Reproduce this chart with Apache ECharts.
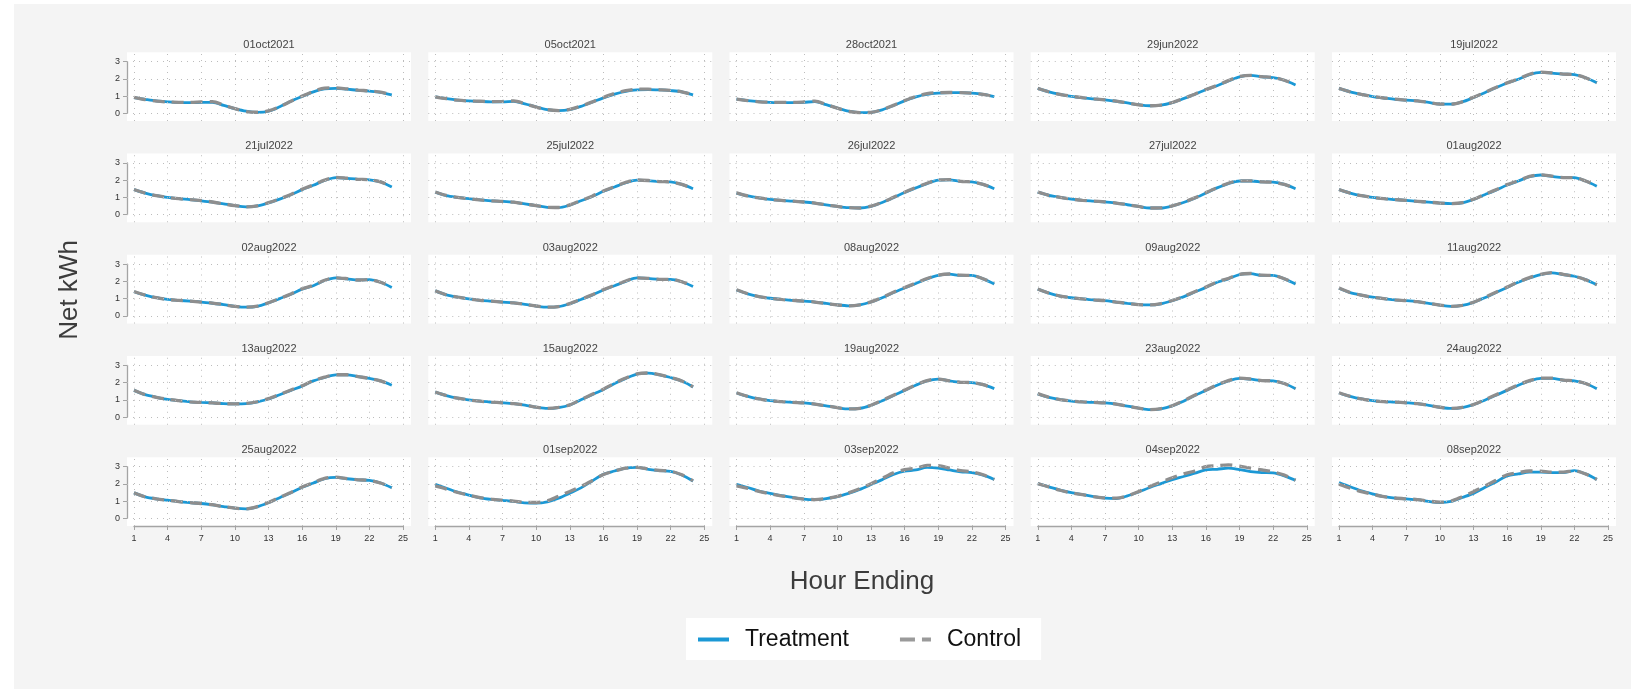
<!DOCTYPE html>
<html>
<head>
<meta charset="utf-8">
<script src="https://cdn.jsdelivr.net/npm/echarts@6/dist/echarts.min.js"></script>
<style>
html, body { margin: 0; padding: 0; background: #fff; }
#bg { position: absolute; left: 14px; top: 4px; right: 0; bottom: 0; background: #f4f4f4; }
#chart { position: absolute; left: 0; top: 0; width: 1631px; height: 689px; }
</style>
</head>
<body>
<div id="bg"></div>
<div id="chart"></div>
<script>
// Hour-ending index shared by every panel
const hours = [1,2,3,4,5,6,7,8,9,10,11,12,13,14,15,16,17,18,19,20,21,22,23,24];
const xTicks = [1,4,7,10,13,16,19,22,25];
const yTicks = [0,1,2,3];

// Event days, one panel each (row by row)
const eventDays = [
  '01oct2021','05oct2021','28oct2021','29jun2022','19jul2022',
  '21jul2022','25jul2022','26jul2022','27jul2022','01aug2022',
  '02aug2022','03aug2022','08aug2022','09aug2022','11aug2022',
  '13aug2022','15aug2022','19aug2022','23aug2022','24aug2022',
  '25aug2022','01sep2022','03sep2022','04sep2022','08sep2022'
];

// Net kWh by hour: tr_ = Treatment, ct_ = Control
const tr_01oct2021 = [0.91,0.81,0.72,0.67,0.63,0.62,0.63,0.63,0.46,0.27,0.12,0.05,0.12,0.38,0.70,0.98,1.25,1.42,1.45,1.40,1.34,1.29,1.22,1.07];
const ct_01oct2021 = [0.93,0.80,0.71,0.66,0.64,0.63,0.66,0.68,0.48,0.27,0.10,0.06,0.14,0.38,0.70,1.00,1.27,1.46,1.48,1.42,1.35,1.30,1.23,1.08];
const tr_05oct2021 = [0.95,0.85,0.77,0.72,0.69,0.67,0.67,0.69,0.55,0.37,0.22,0.16,0.22,0.40,0.65,0.90,1.12,1.28,1.36,1.38,1.36,1.32,1.25,1.07];
const ct_05oct2021 = [0.96,0.85,0.76,0.72,0.70,0.68,0.69,0.72,0.56,0.36,0.21,0.16,0.23,0.42,0.66,0.92,1.15,1.32,1.40,1.40,1.37,1.33,1.25,1.08];
const tr_28oct2021 = [0.82,0.74,0.68,0.64,0.62,0.62,0.64,0.68,0.50,0.30,0.12,0.04,0.05,0.20,0.45,0.72,0.95,1.10,1.17,1.20,1.20,1.17,1.10,0.97];
const ct_28oct2021 = [0.83,0.74,0.67,0.64,0.63,0.63,0.66,0.71,0.51,0.30,0.11,0.04,0.06,0.21,0.46,0.74,0.98,1.14,1.20,1.21,1.20,1.17,1.10,0.97];
const tr_29jun2022 = [1.45,1.25,1.10,0.98,0.90,0.84,0.78,0.70,0.60,0.50,0.44,0.47,0.62,0.85,1.10,1.37,1.60,1.88,2.12,2.20,2.12,2.08,1.92,1.65];
const ct_29jun2022 = [1.46,1.25,1.10,0.99,0.91,0.84,0.78,0.71,0.60,0.49,0.44,0.48,0.63,0.86,1.11,1.38,1.62,1.90,2.14,2.21,2.13,2.08,1.92,1.66];
const tr_19jul2022 = [1.45,1.25,1.10,0.97,0.89,0.81,0.76,0.72,0.63,0.54,0.53,0.66,0.92,1.20,1.49,1.76,1.98,2.25,2.38,2.34,2.28,2.25,2.07,1.78];
const ct_19jul2022 = [1.46,1.25,1.10,0.98,0.89,0.82,0.77,0.72,0.63,0.54,0.53,0.67,0.93,1.21,1.50,1.77,2.00,2.27,2.39,2.35,2.28,2.25,2.07,1.78];
const tr_21jul2022 = [1.45,1.25,1.10,1.00,0.92,0.87,0.80,0.72,0.62,0.52,0.45,0.50,0.68,0.90,1.15,1.45,1.70,1.98,2.15,2.10,2.05,2.02,1.90,1.60];
const ct_21jul2022 = [1.46,1.25,1.10,1.00,0.92,0.87,0.81,0.73,0.62,0.52,0.45,0.51,0.69,0.91,1.17,1.47,1.72,2.00,2.16,2.11,2.05,2.02,1.90,1.61];
const tr_25jul2022 = [1.30,1.10,1.00,0.92,0.85,0.80,0.77,0.72,0.62,0.52,0.42,0.40,0.55,0.80,1.05,1.35,1.60,1.85,2.00,1.97,1.92,1.90,1.75,1.50];
const ct_25jul2022 = [1.31,1.11,1.00,0.92,0.85,0.80,0.77,0.72,0.62,0.52,0.42,0.41,0.56,0.81,1.07,1.37,1.62,1.87,2.01,1.98,1.92,1.90,1.75,1.51];
const tr_26jul2022 = [1.25,1.08,0.97,0.88,0.82,0.78,0.73,0.66,0.56,0.47,0.40,0.38,0.48,0.70,0.98,1.28,1.55,1.80,2.00,2.02,1.92,1.90,1.75,1.50];
const ct_26jul2022 = [1.26,1.08,0.97,0.88,0.82,0.78,0.73,0.67,0.56,0.47,0.40,0.38,0.49,0.71,1.00,1.30,1.57,1.82,2.01,2.03,1.93,1.90,1.75,1.51];
const tr_27jul2022 = [1.30,1.12,1.00,0.90,0.83,0.78,0.73,0.67,0.57,0.47,0.38,0.38,0.50,0.70,0.95,1.25,1.55,1.80,1.95,1.95,1.90,1.88,1.75,1.50];
const ct_27jul2022 = [1.31,1.12,1.00,0.90,0.83,0.78,0.74,0.67,0.57,0.47,0.38,0.39,0.51,0.71,0.97,1.27,1.56,1.82,1.96,1.96,1.90,1.88,1.75,1.51];
const tr_01aug2022 = [1.45,1.25,1.10,1.00,0.92,0.87,0.82,0.77,0.72,0.67,0.63,0.68,0.88,1.15,1.42,1.72,1.95,2.20,2.30,2.22,2.15,2.15,1.95,1.65];
const ct_01aug2022 = [1.46,1.25,1.10,1.00,0.92,0.87,0.82,0.77,0.72,0.67,0.64,0.69,0.89,1.17,1.44,1.74,1.97,2.22,2.31,2.23,2.15,2.15,1.95,1.66];
const tr_02aug2022 = [1.40,1.20,1.05,0.95,0.90,0.85,0.80,0.73,0.65,0.55,0.50,0.55,0.75,1.00,1.25,1.55,1.75,2.05,2.20,2.15,2.08,2.10,1.95,1.65];
const ct_02aug2022 = [1.41,1.20,1.05,0.95,0.90,0.85,0.80,0.74,0.65,0.55,0.50,0.56,0.76,1.01,1.27,1.57,1.77,2.07,2.21,2.16,2.08,2.10,1.95,1.66];
const tr_03aug2022 = [1.45,1.22,1.08,0.98,0.90,0.85,0.80,0.75,0.67,0.57,0.50,0.53,0.70,0.95,1.20,1.50,1.75,2.00,2.20,2.17,2.12,2.12,1.98,1.70];
const ct_03aug2022 = [1.46,1.22,1.08,0.98,0.90,0.85,0.80,0.75,0.67,0.57,0.50,0.54,0.71,0.96,1.22,1.52,1.77,2.02,2.21,2.18,2.12,2.12,1.98,1.71];
const tr_08aug2022 = [1.50,1.28,1.12,1.02,0.95,0.90,0.85,0.80,0.72,0.63,0.58,0.63,0.80,1.05,1.35,1.62,1.88,2.15,2.35,2.42,2.35,2.35,2.15,1.85];
const ct_08aug2022 = [1.51,1.28,1.12,1.02,0.95,0.90,0.85,0.80,0.72,0.63,0.58,0.64,0.81,1.07,1.37,1.64,1.90,2.17,2.36,2.43,2.36,2.35,2.15,1.86];
const tr_09aug2022 = [1.55,1.32,1.15,1.05,0.98,0.92,0.88,0.80,0.72,0.65,0.63,0.70,0.88,1.10,1.38,1.65,1.95,2.15,2.40,2.45,2.35,2.35,2.15,1.85];
const ct_09aug2022 = [1.56,1.32,1.15,1.05,0.98,0.92,0.88,0.80,0.72,0.65,0.63,0.71,0.89,1.12,1.40,1.67,1.97,2.17,2.41,2.46,2.36,2.35,2.15,1.86];
const tr_11aug2022 = [1.60,1.35,1.20,1.08,1.00,0.92,0.88,0.82,0.72,0.62,0.55,0.60,0.78,1.05,1.35,1.65,1.95,2.20,2.40,2.50,2.40,2.30,2.10,1.80];
const ct_11aug2022 = [1.61,1.35,1.20,1.08,1.00,0.92,0.88,0.82,0.72,0.62,0.55,0.61,0.79,1.07,1.37,1.67,1.97,2.22,2.41,2.51,2.41,2.30,2.10,1.81];
const tr_13aug2022 = [1.55,1.30,1.15,1.03,0.95,0.88,0.85,0.82,0.78,0.77,0.78,0.88,1.05,1.30,1.55,1.80,2.10,2.30,2.45,2.45,2.35,2.25,2.10,1.85];
const ct_13aug2022 = [1.56,1.30,1.15,1.03,0.95,0.88,0.85,0.82,0.78,0.77,0.79,0.89,1.07,1.32,1.57,1.82,2.12,2.32,2.46,2.46,2.35,2.25,2.10,1.86];
const tr_15aug2022 = [1.45,1.25,1.10,1.00,0.92,0.87,0.83,0.78,0.70,0.58,0.50,0.55,0.70,1.00,1.30,1.60,1.95,2.25,2.50,2.55,2.45,2.30,2.10,1.75];
const ct_15aug2022 = [1.46,1.25,1.10,1.00,0.92,0.87,0.83,0.78,0.70,0.58,0.50,0.56,0.71,1.02,1.32,1.62,1.97,2.27,2.51,2.56,2.46,2.30,2.10,1.76];
const tr_19aug2022 = [1.40,1.20,1.05,0.95,0.90,0.85,0.82,0.75,0.65,0.55,0.47,0.50,0.68,0.95,1.25,1.55,1.85,2.10,2.20,2.10,2.02,2.00,1.88,1.65];
const ct_19aug2022 = [1.41,1.20,1.05,0.95,0.90,0.85,0.82,0.75,0.65,0.55,0.47,0.51,0.69,0.97,1.27,1.57,1.87,2.12,2.21,2.11,2.02,2.00,1.88,1.66];
const tr_23aug2022 = [1.35,1.15,1.02,0.93,0.88,0.85,0.82,0.75,0.63,0.52,0.43,0.48,0.65,0.92,1.25,1.55,1.85,2.10,2.25,2.20,2.12,2.10,1.95,1.65];
const ct_23aug2022 = [1.36,1.15,1.02,0.93,0.88,0.85,0.82,0.75,0.63,0.52,0.43,0.49,0.66,0.94,1.27,1.57,1.87,2.12,2.26,2.21,2.12,2.10,1.95,1.66];
const tr_24aug2022 = [1.40,1.20,1.05,0.95,0.90,0.87,0.83,0.78,0.68,0.57,0.50,0.55,0.72,0.98,1.27,1.55,1.85,2.10,2.25,2.25,2.15,2.10,1.95,1.65];
const ct_24aug2022 = [1.41,1.20,1.05,0.95,0.90,0.87,0.83,0.78,0.68,0.57,0.50,0.56,0.73,1.00,1.29,1.57,1.87,2.12,2.26,2.26,2.15,2.10,1.95,1.66];
const tr_25aug2022 = [1.48,1.25,1.13,1.05,0.97,0.91,0.86,0.78,0.68,0.59,0.55,0.67,0.91,1.20,1.48,1.80,2.05,2.30,2.38,2.30,2.24,2.20,2.05,1.77];
const ct_25aug2022 = [1.49,1.25,1.13,1.05,0.97,0.91,0.86,0.79,0.68,0.59,0.55,0.68,0.92,1.22,1.50,1.82,2.07,2.32,2.39,2.31,2.24,2.20,2.05,1.78];
const tr_01sep2022 = [1.98,1.75,1.52,1.35,1.19,1.10,1.04,0.98,0.90,0.88,0.96,1.17,1.46,1.77,2.17,2.56,2.75,2.92,2.96,2.85,2.77,2.73,2.52,2.17];
const ct_01sep2022 = [1.88,1.70,1.50,1.34,1.20,1.11,1.05,1.00,0.93,0.92,1.02,1.29,1.56,1.85,2.19,2.55,2.75,2.92,2.96,2.86,2.78,2.74,2.53,2.18];
const tr_03sep2022 = [1.98,1.79,1.58,1.45,1.32,1.21,1.11,1.08,1.15,1.26,1.45,1.68,1.96,2.25,2.55,2.74,2.81,2.96,2.92,2.81,2.70,2.66,2.51,2.26];
const ct_03sep2022 = [1.89,1.74,1.56,1.43,1.31,1.20,1.11,1.09,1.16,1.28,1.48,1.72,2.01,2.32,2.64,2.83,2.91,3.08,3.06,2.92,2.77,2.70,2.53,2.26];
const tr_04sep2022 = [2.02,1.83,1.64,1.49,1.38,1.26,1.17,1.15,1.30,1.53,1.79,2.02,2.25,2.43,2.62,2.81,2.85,2.92,2.83,2.72,2.66,2.64,2.47,2.21];
const ct_04sep2022 = [2.02,1.82,1.63,1.48,1.37,1.26,1.18,1.17,1.30,1.55,1.85,2.11,2.36,2.58,2.75,3.00,3.06,3.11,3.04,2.91,2.81,2.70,2.51,2.21];
const tr_08sep2022 = [2.08,1.83,1.60,1.42,1.26,1.17,1.13,1.08,0.98,0.92,0.98,1.21,1.45,1.79,2.11,2.47,2.58,2.68,2.68,2.66,2.66,2.77,2.58,2.26];
const ct_08sep2022 = [1.98,1.75,1.55,1.40,1.26,1.18,1.13,1.09,1.00,0.94,1.00,1.26,1.55,1.87,2.21,2.53,2.66,2.75,2.74,2.68,2.68,2.77,2.58,2.26];

const treatmentByDay = [
  tr_01oct2021, tr_05oct2021, tr_28oct2021, tr_29jun2022, tr_19jul2022,
  tr_21jul2022, tr_25jul2022, tr_26jul2022, tr_27jul2022, tr_01aug2022,
  tr_02aug2022, tr_03aug2022, tr_08aug2022, tr_09aug2022, tr_11aug2022,
  tr_13aug2022, tr_15aug2022, tr_19aug2022, tr_23aug2022, tr_24aug2022,
  tr_25aug2022, tr_01sep2022, tr_03sep2022, tr_04sep2022, tr_08sep2022
];
const controlByDay = [
  ct_01oct2021, ct_05oct2021, ct_28oct2021, ct_29jun2022, ct_19jul2022,
  ct_21jul2022, ct_25jul2022, ct_26jul2022, ct_27jul2022, ct_01aug2022,
  ct_02aug2022, ct_03aug2022, ct_08aug2022, ct_09aug2022, ct_11aug2022,
  ct_13aug2022, ct_15aug2022, ct_19aug2022, ct_23aug2022, ct_24aug2022,
  ct_25aug2022, ct_01sep2022, ct_03sep2022, ct_04sep2022, ct_08sep2022
];

// ---- layout (pixels) ----
const FONT = '"Liberation Sans", Arial, "DejaVu Sans", sans-serif';
const NCOL = 5;
const COL0 = 134, COL_STEP = 301.25;     // left edge of hour 1 in first column
const ROW0 = 61.7, ROW_STEP = 101.25;    // top edge (value 3) in first row
const DATA_W = 269, DATA_H = 51.6;       // span of hours 1..25 and values 0..3
const PAD = { left: 7, right: 8, top: 9.5, bottom: 7.7 }; // white plot region margin
const X_MIN = 1, X_MAX = 25, Y_MIN = 0, Y_MAX = 3;

const BLUE = '#1b98d5';
const GRAY = '#8e8e8e';
const AXIS_GRAY = '#a4a4a4';
const GRID_DOT = '#bcbcbc';

const grids = [], xAxes = [], yAxes = [], series = [], graphics = [];

const xPerPx = (X_MAX - X_MIN) / DATA_W;
const yPerPx = (Y_MAX - Y_MIN) / DATA_H;

eventDays.forEach((day, i) => {
  const r = Math.floor(i / NCOL), c = i % NCOL;
  const dl = COL0 + c * COL_STEP;
  const dt = ROW0 + r * ROW_STEP;
  const pi = 2 * i, di = 2 * i + 1;

  // white plot region, with padded scales so dotted grid spans all of it
  grids.push({
    left: dl - PAD.left, top: dt - PAD.top,
    width: DATA_W + PAD.left + PAD.right, height: DATA_H + PAD.top + PAD.bottom,
    show: true, backgroundColor: '#ffffff', borderWidth: 0
  });
  // exact data rectangle, carries the visible axes
  grids.push({ left: dl, top: dt, width: DATA_W, height: DATA_H, show: false });

  xAxes.push({
    gridIndex: pi, type: 'value', show: false,
    min: X_MIN - PAD.left * xPerPx, max: X_MAX + PAD.right * xPerPx
  });
  yAxes.push({
    gridIndex: pi, type: 'value', show: false,
    min: Y_MIN - PAD.bottom * yPerPx, max: Y_MAX + PAD.top * yPerPx
  });

  const lastRow = r === 4, firstCol = c === 0;
  xAxes.push({
    gridIndex: di, type: 'value', min: X_MIN, max: X_MAX, interval: 3,
    show: lastRow, position: 'bottom', offset: PAD.bottom,
    axisLine: { show: true, onZero: false, lineStyle: { color: AXIS_GRAY, width: 1.3 } },
    axisTick: { show: true, length: 4, lineStyle: { color: AXIS_GRAY, width: 1 } },
    axisLabel: { show: true, fontSize: 9, color: '#333', fontFamily: FONT, margin: 8 },
    splitLine: { show: false }
  });
  yAxes.push({
    gridIndex: di, type: 'value', min: Y_MIN, max: Y_MAX, interval: 1,
    show: firstCol, position: 'left', offset: PAD.left,
    axisLine: { show: true, onZero: false, lineStyle: { color: AXIS_GRAY, width: 1.3 } },
    axisTick: { show: true, length: 4, lineStyle: { color: AXIS_GRAY, width: 1 } },
    axisLabel: { show: true, fontSize: 9, color: '#333', fontFamily: FONT, margin: 7 },
    splitLine: { show: false }
  });

  // dotted grid across the whole plot region
  series.push({
    type: 'line', xAxisIndex: pi, yAxisIndex: pi, data: [], silent: true, z: 1,
    markLine: {
      silent: true, symbol: ['none', 'none'], animation: false,
      label: { show: false },
      lineStyle: { type: [1, 5], color: GRID_DOT, width: 1 },
      data: xTicks.map(v => ({ xAxis: v })).concat(yTicks.map(v => ({ yAxis: v })))
    }
  });

  series.push({
    name: 'Treatment', type: 'line', xAxisIndex: pi, yAxisIndex: pi, z: 3,
    data: hours.map((h, k) => [h, treatmentByDay[i][k]]),
    symbol: 'none', showSymbol: false, smooth: 0.3, clip: false,
    lineStyle: { color: BLUE, width: 2.8 }, itemStyle: { color: BLUE }
  });
  series.push({
    name: 'Control', type: 'line', xAxisIndex: pi, yAxisIndex: pi, z: 4,
    data: hours.map((h, k) => [h, controlByDay[i][k]]),
    symbol: 'none', showSymbol: false, smooth: 0.3, clip: false,
    lineStyle: { color: GRAY, width: 3.3, type: [12, 7] }, itemStyle: { color: GRAY }
  });

  // panel heading
  graphics.push({
    type: 'text', silent: true,
    x: dl - PAD.left + (DATA_W + PAD.left + PAD.right) / 2,
    y: 45 + r * ROW_STEP,
    style: {
      text: day, fill: '#444', font: '11px ' + FONT,
      textAlign: 'center', align: 'center', textVerticalAlign: 'middle', verticalAlign: 'middle'
    }
  });
});

// axis titles
graphics.push({
  type: 'text', silent: true, x: 862, y: 582,
  style: { text: 'Hour Ending', fill: '#3c3c3c', font: '26px ' + FONT,
    textAlign: 'center', align: 'center', textVerticalAlign: 'middle', verticalAlign: 'middle' }
});
graphics.push({
  type: 'text', silent: true, x: 70, y: 290, rotation: Math.PI / 2,
  style: { text: 'Net kWh', fill: '#3c3c3c', font: '26px ' + FONT,
    textAlign: 'center', align: 'center', textVerticalAlign: 'middle', verticalAlign: 'middle' }
});

const chart = echarts.init(document.getElementById('chart'), null, { renderer: 'canvas' });
chart.setOption({
  backgroundColor: 'transparent',
  animation: false,
  grid: grids,
  xAxis: xAxes,
  yAxis: yAxes,
  series: series,
  graphic: graphics,
  legend: {
    left: 686, top: 618,
    orient: 'horizontal',
    backgroundColor: '#ffffff',
    padding: [10, 20, 9, 10],
    itemWidth: 31, itemHeight: 14, itemGap: 49,
    textStyle: { fontSize: 23, color: '#111', fontFamily: FONT, padding: [0, 0, 0, 11] },
    data: [
      { name: 'Treatment', itemStyle: { opacity: 0 }, lineStyle: { width: 4, color: BLUE, type: 'solid' } },
      { name: 'Control', itemStyle: { opacity: 0 }, lineStyle: { width: 4, color: '#9a9a9a', type: [15, 7] } }
    ],
    selectedMode: false
  }
});
</script>
</body>
</html>
